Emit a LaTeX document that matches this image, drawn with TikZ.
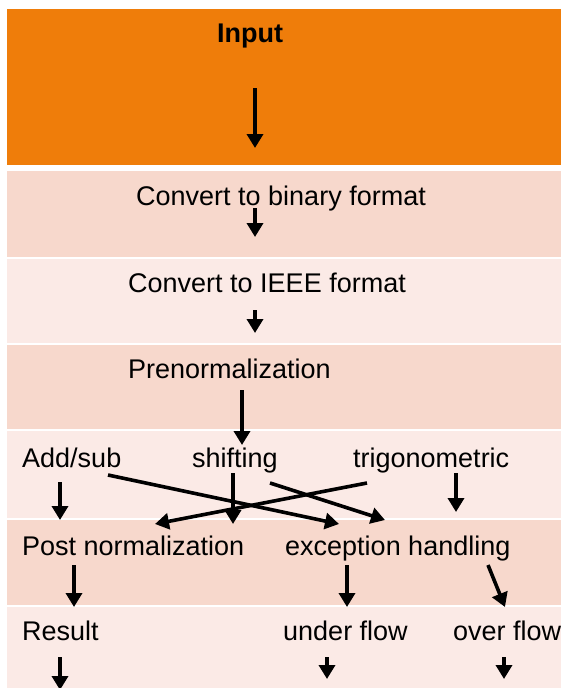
\documentclass[tikz,border=0pt]{standalone}
\usepackage{fontspec}
\setmainfont{Liberation Sans}
\usetikzlibrary{arrows.meta}
\definecolor{bandorange}{HTML}{EF7D0A}
\definecolor{banddark}{HTML}{F7D8CC}
\definecolor{bandlight}{HTML}{FBEAE6}

\begin{document}
\begin{tikzpicture}[x=1pt,y=-1pt,
  lbl/.style={inner sep=0,anchor=base west,font=\fontsize{27}{32}\selectfont},
  arr/.style={-{Triangle[width=16pt,length=14pt]},line width=3.6pt}]
\useasboundingbox (0,0) rectangle (561,688);
\fill[bandorange] (7,9) rectangle (561,165);
\fill[banddark] (7,171) rectangle (561,257);
\fill[bandlight] (7,259) rectangle (561,343);
\fill[banddark] (7,345) rectangle (561,429);
\fill[bandlight] (7,431) rectangle (561,518);
\fill[banddark] (7,520) rectangle (561,605);
\fill[bandlight] (7,607) rectangle (561,688);

\node[lbl,anchor=base,font=\bfseries\fontsize{27}{32}\selectfont] (input) at (250,42) {Input};
\node[lbl] (binary) at (136,205) {Convert to binary format};
\node[lbl] (ieee) at (128,292) {Convert to IEEE format};
\node[lbl] (prenorm) at (128,378) {Prenormalization};
\node[lbl] (addsub) at (22,467) {Add/sub};
\node[lbl] (shift) at (192,467) {shifting};
\node[lbl] (trig) at (353,467) {trigonometric};
\node[lbl] (postnorm) at (22,555) {Post normalization};
\node[lbl] (except) at (285,555) {exception handling};
\node[lbl] (result) at (22,640) {Result};
\node[lbl] (under) at (283,640) {under flow};
\node[lbl] (over) at (453,640) {over flow};

\coordinate (in-a) at (255,88);   \coordinate (in-b) at (255,148);
\coordinate (bin-a) at (255,208); \coordinate (bin-b) at (255,237);
\coordinate (ieee-a) at (255,310); \coordinate (ieee-b) at (255,333);
\coordinate (pre-a) at (242,390); \coordinate (pre-b) at (242,445);
\coordinate (add-a) at (60,482);  \coordinate (add-b) at (60,520);
\coordinate (add-c) at (108,475); \coordinate (add-d) at (339,524);
\coordinate (sh-a) at (233,473);  \coordinate (sh-b) at (233,524);
\coordinate (sh-c) at (270,483);  \coordinate (sh-d) at (385,520);
\coordinate (tr-a) at (456,473);  \coordinate (tr-b) at (456,512);
\coordinate (tr-c) at (367,483);  \coordinate (tr-d) at (155,524);
\coordinate (post-a) at (74,565); \coordinate (post-b) at (74,607);
\coordinate (ex-a) at (347,565);  \coordinate (ex-b) at (347,607);
\coordinate (ex-c) at (488,565);  \coordinate (ex-d) at (505,607);
\coordinate (res-a) at (60,657);  \coordinate (res-b) at (60,690);
\coordinate (un-a) at (327,657);  \coordinate (un-b) at (327,679);
\coordinate (ov-a) at (504,657);  \coordinate (ov-b) at (504,679);

\foreach \n in {in,bin,ieee,pre,add,sh,tr,post,ex,res,un,ov}
  \draw[arr] (\n-a) -- (\n-b);
\foreach \n in {add,sh,tr,ex}
  \draw[arr] (\n-c) -- (\n-d);
\end{tikzpicture}
\end{document}
